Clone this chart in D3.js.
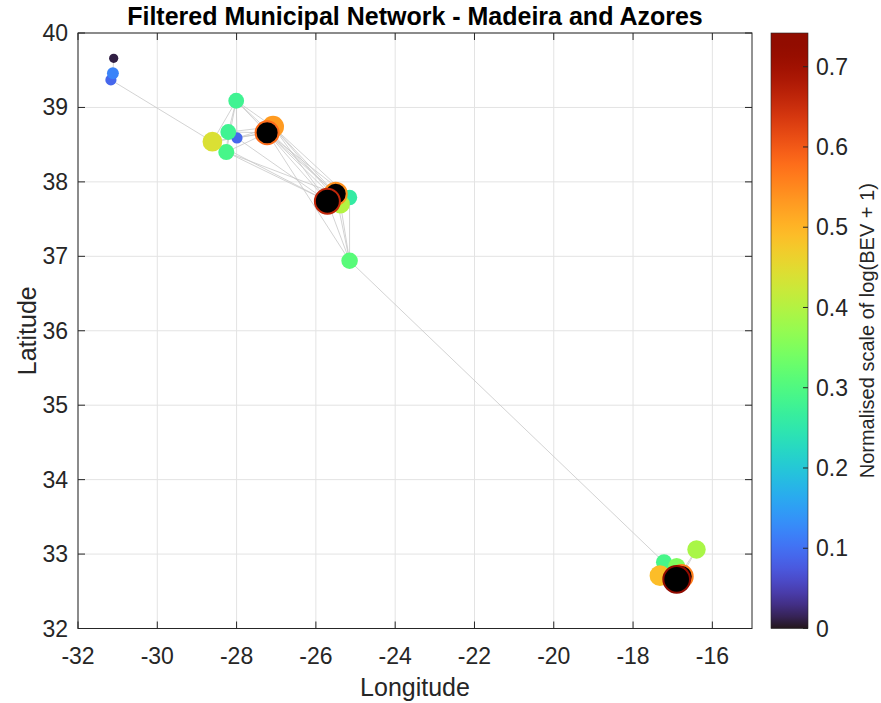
<!DOCTYPE html>
<html>
<head>
<meta charset="utf-8">
<script src="https://cdn.jsdelivr.net/npm/d3@7"></script>
<style>
  body { margin: 0; background: #fff; font-family: 'Liberation Sans', Arial, sans-serif; }
  .tick-label { fill: #262626; font-size: 23px; }
</style>
</head>
<body>
<script>
// Municipalities (nodes)
const names = [
  'Corvo', 'Santa Cruz das Flores', 'Lajes das Flores', 'Santa Cruz da Graciosa',
  'Horta', 'Velas', 'Lajes do Pico', 'Calheta (Azores)', 'Praia da Vitória',
  'Angra do Heroísmo', 'Ponta Delgada', 'Ribeira Grande', 'Vila Franca do Campo',
  'Nordeste', 'Vila do Porto', 'Porto Santo', 'São Vicente', 'Santana',
  'Calheta (Madeira)', 'Santa Cruz', 'Funchal'
];
const lons = [-31.10, -31.12, -31.17, -28.01, -28.61, -28.21, -28.26, -27.99, -27.08,
  -27.23, -25.71, -25.50, -25.38, -25.15, -25.15, -16.40, -17.22, -16.90, -17.32, -16.78, -16.90];
const lats = [39.66, 39.46, 39.37, 39.09, 38.54, 38.67, 38.40, 38.59, 38.74,
  38.66, 37.74, 37.84, 37.70, 37.79, 36.94, 33.06, 32.89, 32.83, 32.71, 32.70, 32.66];
const bev = [0.01, 0.12, 0.09, 0.28, 0.44, 0.28, 0.29, 0.09, 0.53,
  0.58, 0.66, 0.54, 0.40, 0.26, 0.31, 0.39, 0.29, 0.35, 0.49, 0.56, 0.73];
const hubs = ['Angra do Heroísmo', 'Ponta Delgada', 'Ribeira Grande', 'Santa Cruz', 'Funchal'];

// Links kept after filtering
const edgeFrom = [
  'Corvo', 'Lajes das Flores',
  'Santa Cruz da Graciosa', 'Santa Cruz da Graciosa', 'Santa Cruz da Graciosa', 'Santa Cruz da Graciosa',
  'Santa Cruz da Graciosa', 'Santa Cruz da Graciosa', 'Santa Cruz da Graciosa',
  'Horta', 'Horta', 'Horta', 'Horta',
  'Velas', 'Velas', 'Velas', 'Velas',
  'Lajes do Pico', 'Lajes do Pico', 'Lajes do Pico',
  'Calheta (Azores)', 'Calheta (Azores)', 'Calheta (Azores)',
  'Angra do Heroísmo', 'Angra do Heroísmo', 'Angra do Heroísmo', 'Angra do Heroísmo', 'Angra do Heroísmo', 'Angra do Heroísmo',
  'Praia da Vitória', 'Praia da Vitória', 'Praia da Vitória', 'Praia da Vitória',
  'Ponta Delgada', 'Ponta Delgada', 'Ponta Delgada', 'Ponta Delgada',
  'Ribeira Grande', 'Ribeira Grande', 'Ribeira Grande',
  'Vila Franca do Campo', 'Nordeste', 'Vila do Porto',
  'Porto Santo', 'Porto Santo',
  'Funchal', 'Funchal', 'Funchal', 'Funchal', 'Calheta (Madeira)', 'Santa Cruz'
];
const edgeTo = [
  'Santa Cruz das Flores', 'Horta',
  'Velas', 'Lajes do Pico', 'Angra do Heroísmo', 'Praia da Vitória',
  'Calheta (Azores)', 'Horta', 'Ribeira Grande',
  'Velas', 'Angra do Heroísmo', 'Calheta (Azores)', 'Ponta Delgada',
  'Calheta (Azores)', 'Angra do Heroísmo', 'Praia da Vitória', 'Lajes do Pico',
  'Angra do Heroísmo', 'Ponta Delgada', 'Ribeira Grande',
  'Angra do Heroísmo', 'Ponta Delgada', 'Praia da Vitória',
  'Praia da Vitória', 'Ponta Delgada', 'Ribeira Grande', 'Vila Franca do Campo', 'Nordeste', 'Vila do Porto',
  'Ponta Delgada', 'Ribeira Grande', 'Vila Franca do Campo', 'Nordeste',
  'Ribeira Grande', 'Vila Franca do Campo', 'Nordeste', 'Vila do Porto',
  'Vila Franca do Campo', 'Nordeste', 'Vila do Porto',
  'Vila do Porto', 'Vila do Porto', 'São Vicente',
  'Funchal', 'Santa Cruz',
  'Santa Cruz', 'Calheta (Madeira)', 'São Vicente', 'Santana', 'São Vicente', 'Santana'
];

const xTicks = [-32, -30, -28, -26, -24, -22, -20, -18, -16];
const yTicks = [32, 33, 34, 35, 36, 37, 38, 39, 40];
const cTicks = [0, 0.1, 0.2, 0.3, 0.4, 0.5, 0.6, 0.7];
const cMax = 0.742;

let width = 881;
let height = 703;
let plot = { left: 78, right: 752, top: 33, bottom: 628.5 };
let bar = { left: 771, right: 808, top: 33, bottom: 628.5 };

let svg = d3.select('body')
  .append('svg')
  .attr('width', width)
  .attr('height', height);

let x = d3.scaleLinear().domain([-32, -15]).range([plot.left, plot.right]);
let y = d3.scaleLinear().domain([32, 40]).range([plot.bottom, plot.top]);
let color = d3.scaleSequential(d3.interpolateTurbo).domain([0, cMax]);
let radius = d3.scaleLinear().domain([0, cMax]).range([4.5, 13.5]);
let cScale = d3.scaleLinear().domain([0, cMax]).range([bar.bottom, bar.top]);

let nodes = names.map((n, i) => ({ name: n, lon: lons[i], lat: lats[i], v: bev[i], hub: hubs.includes(n) }));
let byName = new Map(nodes.map(d => [d.name, d]));
let edges = edgeFrom.map((s, i) => ({ s: byName.get(s), t: byName.get(edgeTo[i]) }));

// Grid
let grid = svg.append('g');
grid.selectAll('.gx')
  .data(xTicks)
  .enter()
  .append('line')
  .attr('x1', d => x(d)).attr('x2', d => x(d))
  .attr('y1', plot.top).attr('y2', plot.bottom)
  .attr('stroke', '#e3e3e3');
grid.selectAll('.gy')
  .data(yTicks)
  .enter()
  .append('line')
  .attr('x1', plot.left).attr('x2', plot.right)
  .attr('y1', d => y(d)).attr('y2', d => y(d))
  .attr('stroke', '#e3e3e3');

// Edges
svg.append('g')
  .selectAll('line')
  .data(edges)
  .enter()
  .append('line')
  .attr('x1', d => x(d.s.lon)).attr('y1', d => y(d.s.lat))
  .attr('x2', d => x(d.t.lon)).attr('y2', d => y(d.t.lat))
  .attr('stroke', '#c8c8c8')
  .attr('stroke-width', 0.8);

// Nodes: smaller values first, hubs on top
let ordered = nodes.slice().sort((a, b) => (a.hub - b.hub) || (a.v - b.v));
svg.append('g')
  .selectAll('circle')
  .data(ordered)
  .enter()
  .append('circle')
  .attr('cx', d => x(d.lon))
  .attr('cy', d => y(d.lat))
  .attr('r', d => radius(d.v))
  .attr('fill', d => d.hub ? '#000' : color(d.v))
  .attr('stroke', d => d.hub ? color(d.v) : 'none')
  .attr('stroke-width', 2);

// Axes frame and ticks (inward, on all sides)
let axes = svg.append('g').attr('stroke', '#262626');
axes.append('rect')
  .attr('x', plot.left).attr('y', plot.top)
  .attr('width', plot.right - plot.left).attr('height', plot.bottom - plot.top)
  .attr('fill', 'none')
  .attr('stroke-width', 1);
xTicks.forEach(t => {
  axes.append('line').attr('x1', x(t)).attr('x2', x(t)).attr('y1', plot.bottom).attr('y2', plot.bottom - 7);
  axes.append('line').attr('x1', x(t)).attr('x2', x(t)).attr('y1', plot.top).attr('y2', plot.top + 7);
});
yTicks.forEach(t => {
  axes.append('line').attr('x1', plot.left).attr('x2', plot.left + 7).attr('y1', y(t)).attr('y2', y(t));
  axes.append('line').attr('x1', plot.right).attr('x2', plot.right - 7).attr('y1', y(t)).attr('y2', y(t));
});

svg.append('g')
  .selectAll('text')
  .data(xTicks)
  .enter()
  .append('text')
  .attr('class', 'tick-label')
  .attr('x', d => x(d))
  .attr('y', 664)
  .attr('text-anchor', 'middle')
  .text(d => d);

svg.append('g')
  .selectAll('text')
  .data(yTicks)
  .enter()
  .append('text')
  .attr('class', 'tick-label')
  .attr('x', 68)
  .attr('y', d => y(d))
  .attr('dy', '0.35em')
  .attr('text-anchor', 'end')
  .text(d => d);

// Labels
svg.append('text')
  .attr('x', (plot.left + plot.right) / 2)
  .attr('y', 25)
  .attr('text-anchor', 'middle')
  .style('font-weight', 'bold')
  .style('font-size', '25px')
  .attr('fill', '#000')
  .text('Filtered Municipal Network - Madeira and Azores');

svg.append('text')
  .attr('x', (plot.left + plot.right) / 2)
  .attr('y', 696)
  .attr('text-anchor', 'middle')
  .style('font-size', '25px')
  .attr('fill', '#262626')
  .text('Longitude');

svg.append('text')
  .attr('transform', `translate(36, ${(plot.top + plot.bottom) / 2}) rotate(-90)`)
  .attr('text-anchor', 'middle')
  .style('font-size', '25px')
  .attr('fill', '#262626')
  .text('Latitude');

// Colorbar
let defs = svg.append('defs');
let grad = defs.append('linearGradient')
  .attr('id', 'turbo')
  .attr('x1', 0).attr('y1', 1).attr('x2', 0).attr('y2', 0);
grad.selectAll('stop')
  .data(d3.range(0, 1.0001, 0.02))
  .enter()
  .append('stop')
  .attr('offset', d => d)
  .attr('stop-color', d => d3.interpolateTurbo(d));

svg.append('rect')
  .attr('x', bar.left).attr('y', bar.top)
  .attr('width', bar.right - bar.left).attr('height', bar.bottom - bar.top)
  .attr('fill', 'url(#turbo)')
  .attr('stroke', '#262626')
  .attr('stroke-width', 0.6);

svg.append('g')
  .selectAll('line')
  .data(cTicks)
  .enter()
  .append('line')
  .attr('x1', bar.right - 5).attr('x2', bar.right)
  .attr('y1', d => cScale(d)).attr('y2', d => cScale(d))
  .attr('stroke', '#262626');

svg.append('g')
  .selectAll('text')
  .data(cTicks)
  .enter()
  .append('text')
  .attr('class', 'tick-label')
  .attr('x', 816)
  .attr('y', d => cScale(d))
  .attr('dy', '0.35em')
  .text(d => d);

svg.append('text')
  .attr('transform', `translate(874, ${(bar.top + bar.bottom) / 2}) rotate(-90)`)
  .attr('text-anchor', 'middle')
  .style('font-size', '20px')
  .attr('fill', '#262626')
  .text('Normalised scale of log(BEV + 1)');
</script>
</body>
</html>
